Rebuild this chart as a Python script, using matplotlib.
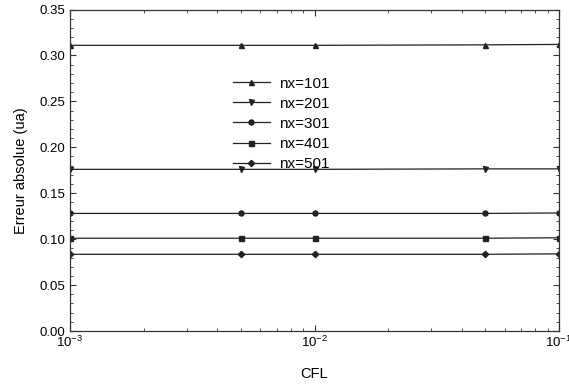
import matplotlib.pyplot as plt
from matplotlib.ticker import MultipleLocator, LogLocator
import numpy as np

plt.rcParams['font.family'] = ['Liberation Sans', 'DejaVu Sans']
plt.rcParams['mathtext.fontset'] = 'custom'
plt.rcParams['mathtext.rm'] = 'Liberation Sans'
plt.rcParams['mathtext.default'] = 'regular'

# CFL values tested
cfl = [0.001, 0.005, 0.01, 0.05, 0.1]

# absolute error for each grid size
err_nx101 = [0.311, 0.311, 0.311, 0.3115, 0.312]
err_nx201 = [0.176, 0.176, 0.176, 0.1765, 0.1765]
err_nx301 = [0.128, 0.128, 0.128, 0.128, 0.1285]
err_nx401 = [0.101, 0.101, 0.101, 0.101, 0.1015]
err_nx501 = [0.0835, 0.0835, 0.0835, 0.0835, 0.084]

labels = ['nx=101', 'nx=201', 'nx=301', 'nx=401', 'nx=501']
markers = ['^', 'v', 'o', 's', 'D']
series = [err_nx101, err_nx201, err_nx301, err_nx401, err_nx501]

fig = plt.figure(figsize=(5.69, 3.85), dpi=100)
ax = fig.add_axes([70/569, 1 - 331/385, 489/569, 321.5/385])

for y, m, lab in zip(series, markers, labels):
    ax.plot(cfl, y, color='#222222', linewidth=0.9, marker=m,
            markersize=3.6 if m != 'D' else 3.2, label=lab)

ax.set_xscale('log')
ax.set_xlim(0.001, 0.1)
ax.set_ylim(0, 0.35)
ax.yaxis.set_major_locator(MultipleLocator(0.05))
ax.yaxis.set_minor_locator(MultipleLocator(0.01))
ax.yaxis.set_major_formatter(plt.FormatStrFormatter('%.2f'))
ax.xaxis.set_minor_locator(LogLocator(base=10, subs=np.arange(2, 10)))

ax.tick_params(which='both', direction='in', top=True, right=True, labelsize=9.5, color='#333333')
ax.tick_params(which='major', length=4)
ax.tick_params(which='minor', length=2)
ax.tick_params(axis='x', pad=3)
for s in ax.spines.values():
    s.set_color('#333333')
    s.set_linewidth(0.9)

ax.set_xlabel('CFL', fontsize=10.5, labelpad=12)
ax.set_ylabel('Erreur absolue (ua)', fontsize=10.5, labelpad=8)

ax.legend(loc='upper left', bbox_to_anchor=(0.318, 0.815), frameon=False, fontsize=11,
          handlelength=2.4, handletextpad=0.6, labelspacing=0.4, borderpad=0)

fig.savefig('out.png', dpi=100)
